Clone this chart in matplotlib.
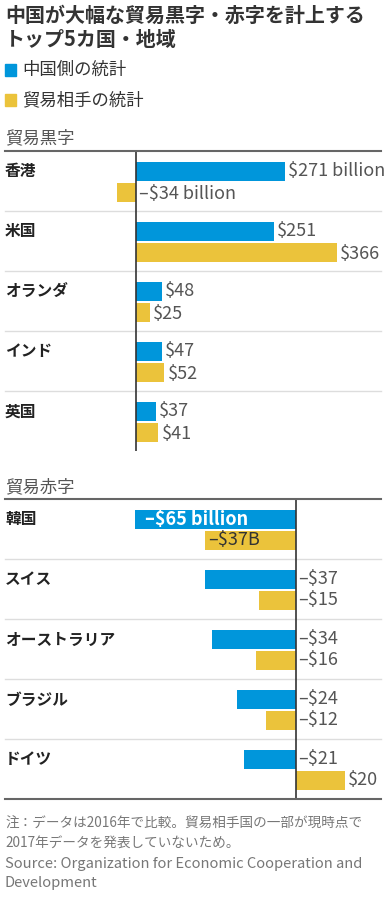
import matplotlib.pyplot as plt
from matplotlib.patches import Rectangle

plt.rcParams['font.family'] = ['Noto Sans CJK JP', 'DejaVu Sans']

# ---------------------

surplus_countries = ['香港', '米国', 'オランダ', 'インド', '英国']
surplus_china = [271, 251, 48, 47, 37]
surplus_partner = [-34, 366, 25, 52, 41]
surplus_china_labels = ['$271 billion', '$251', '$48', '$47', '$37']
surplus_partner_labels = ['–$34 billion', '$366', '$25', '$52', '$41']

deficit_countries = ['韓国', 'スイス', 'オーストラリア', 'ブラジル', 'ドイツ']
deficit_china = [-65, -37, -34, -24, -21]
deficit_partner = [-37, -15, -16, -12, 20]
deficit_china_labels = ['–$65 billion', '–$37', '–$34', '–$24', '–$21']
deficit_partner_labels = ['–$37B', '–$15', '–$16', '–$12', '$20']

BLUE = '#0096db'
YELLOW = '#ebc33b'
W, H = 384, 918

# ---------------------

def fx(px):
    return px / W

def fy(py):
    return 1 - py / H

fig = plt.figure(figsize=(W / 100, H / 100), dpi=100)

def panel(top, zero_px, scale, countries, china, partner, bottom_line):
    ax = fig.add_axes([0, fy(top + 300), 1, 300 / H])
    ax.set_xlim(-zero_px / scale, (W - zero_px) / scale)
    ax.set_ylim(5, 0)
    ax.axis('off')
    n = len(countries)
    yb = [i + 0.34 for i in range(n)]
    yy = [i + 0.69 for i in range(n)]
    ax.barh(yb, china, height=0.317, color=BLUE, zorder=2)
    ax.barh(yy, partner, height=0.317, color=YELLOW, zorder=2)
    ax.axvline(0, color='#333333', lw=1.2, zorder=3)
    x0, x1 = fx(5), fx(381)
    for i in range(1, n):
        ax.plot([x0, x1], [i, i], transform=ax.get_yaxis_transform(),
                color='#dddddd', lw=1, zorder=1, clip_on=False)
    ax.plot([x0, x1], [0, 0], transform=ax.get_yaxis_transform(),
            color='#666666', lw=1.5, zorder=4, clip_on=False)
    if bottom_line:
        ax.plot([x0, x1], [5, 5], transform=ax.get_yaxis_transform(),
                color='#666666', lw=1.5, zorder=4, clip_on=False)
    for i, name in enumerate(countries):
        ax.text(fx(5), yb[i], name, transform=ax.get_yaxis_transform(),
                fontsize=11.3, fontweight='bold', color='#222222', va='center')
    return ax, yb, yy

def value_label(ax, x, y, s, dx, **kw):
    ax.annotate(s, (x, y), xytext=(dx, 0), textcoords='offset pixels',
                va='center', ha='left', fontsize=13, color=kw.pop('color', '#555555'), **kw)

# title / legend
fig.text(fx(5), fy(15), '中国が大幅な貿易黒字・赤字を計上する', fontsize=14.4,
         fontweight='bold', color='#333333', va='center')
fig.text(fx(5), fy(39), 'トップ5カ国・地域', fontsize=14.4,
         fontweight='bold', color='#333333', va='center')
fig.patches.append(Rectangle((fx(5), fy(76)), fx(11), 12 / H, color=BLUE,
                             transform=fig.transFigure, figure=fig))
fig.patches.append(Rectangle((fx(5), fy(106)), fx(11), 12 / H, color=YELLOW,
                             transform=fig.transFigure, figure=fig))
fig.text(fx(22), fy(70), '中国側の統計', fontsize=12.5, color='#333333', va='center')
fig.text(fx(22), fy(100), '貿易相手の統計', fontsize=12.5, color='#333333', va='center')

fig.text(fx(5), fy(138), '貿易黒字', fontsize=12.5, color='#555555', va='center')
fig.text(fx(5), fy(487), '貿易赤字', fontsize=12.5, color='#555555', va='center')

# surplus panel
ax1, yb, yy = panel(151, 136, 0.548, surplus_countries, surplus_china, surplus_partner, False)
for i in range(len(surplus_countries)):
    value_label(ax1, max(surplus_china[i], 0), yb[i], surplus_china_labels[i], 3)
    value_label(ax1, max(surplus_partner[i], 0), yy[i] + 0.03, surplus_partner_labels[i], 3)

# deficit panel
ax2, yb, yy = panel(499, 296, 2.47, deficit_countries, deficit_china, deficit_partner, True)
for i in range(len(deficit_countries)):
    if i == 0:
        value_label(ax2, deficit_china[i], yb[i], deficit_china_labels[i], 10,
                    color='white', fontweight='bold')
        value_label(ax2, deficit_partner[i], yy[i], deficit_partner_labels[i], 4,
                    color='#333333')
        continue
    value_label(ax2, max(deficit_china[i], 0), yb[i], deficit_china_labels[i], 2)
    value_label(ax2, max(deficit_partner[i], 0), yy[i], deficit_partner_labels[i], 2)

# notes
fig.text(fx(5), fy(824), '注：データは2016年で比較。貿易相手国の一部が現時点で',
         fontsize=9.8, color='#777777', va='center')
fig.text(fx(5), fy(844), '2017年データを発表していないため。',
         fontsize=9.8, color='#777777', va='center')
fig.text(fx(5), fy(864), 'Source: Organization for Economic Cooperation and',
         fontsize=10.6, color='#777777', va='center')
fig.text(fx(5), fy(883), 'Development', fontsize=10.6, color='#777777', va='center')

fig.savefig('out.png', dpi=100, facecolor='white')
